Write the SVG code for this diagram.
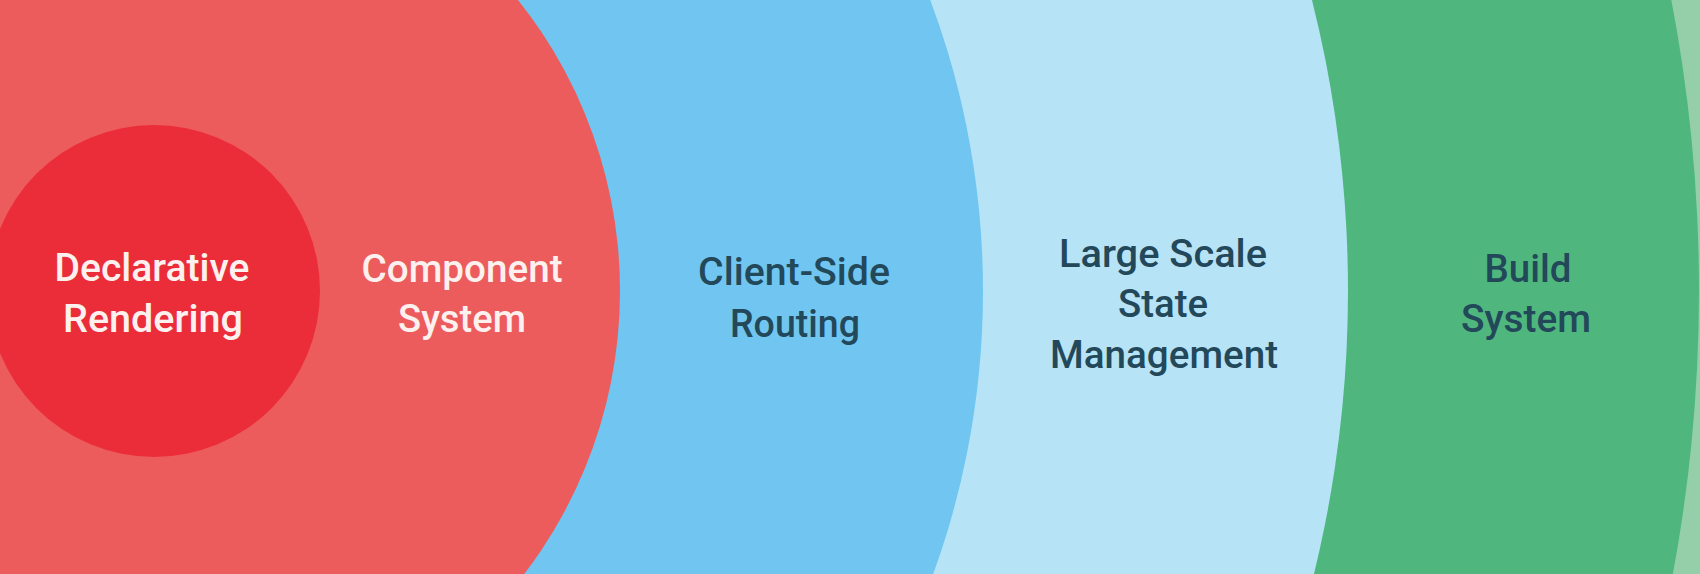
<svg xmlns="http://www.w3.org/2000/svg" width="1700" height="574" viewBox="0 0 1700 574">
<style>
.t{font-family:Roboto,"Liberation Sans",sans-serif;font-weight:500;font-size:39px;text-anchor:middle}
.w{fill:#fdf1ef}
.d{fill:#22485a}
</style>
<rect x="0" y="0" width="1700" height="574" fill="#95cfaa"/>
<g id="build-system">
<circle cx="154" cy="291" r="1545" fill="#4fb77e"/>
<text class="t d" x="1528" y="282" textLength="87" lengthAdjust="spacingAndGlyphs">Build</text>
<text class="t d" x="1526" y="332" textLength="130" lengthAdjust="spacingAndGlyphs">System</text>
</g>
<g id="state-management">
<circle cx="154" cy="291" r="1194" fill="#b6e3f6"/>
<text class="t d" x="1163" y="267" textLength="208" lengthAdjust="spacingAndGlyphs">Large Scale</text>
<text class="t d" x="1163" y="317" textLength="90" lengthAdjust="spacingAndGlyphs">State</text>
<text class="t d" x="1164" y="368" textLength="228" lengthAdjust="spacingAndGlyphs">Management</text>
</g>
<g id="client-side-routing">
<circle cx="154" cy="291" r="829" fill="#70c6f0"/>
<text class="t d" x="794" y="285" textLength="192" lengthAdjust="spacingAndGlyphs">Client-Side</text>
<text class="t d" x="795" y="337" textLength="130" lengthAdjust="spacingAndGlyphs">Routing</text>
</g>
<g id="component-system">
<circle cx="154" cy="291" r="466" fill="#ed5c5c"/>
<text class="t w" x="462" y="282" textLength="201" lengthAdjust="spacingAndGlyphs">Component</text>
<text class="t w" x="462" y="332" textLength="128" lengthAdjust="spacingAndGlyphs">System</text>
</g>
<g id="declarative-rendering">
<circle cx="154" cy="291" r="166" fill="#eb2d3a"/>
<text class="t w" x="152" y="281" textLength="195" lengthAdjust="spacingAndGlyphs">Declarative</text>
<text class="t w" x="153" y="332" textLength="180" lengthAdjust="spacingAndGlyphs">Rendering</text>
</g>
<g id="connectors"/>
</svg>
